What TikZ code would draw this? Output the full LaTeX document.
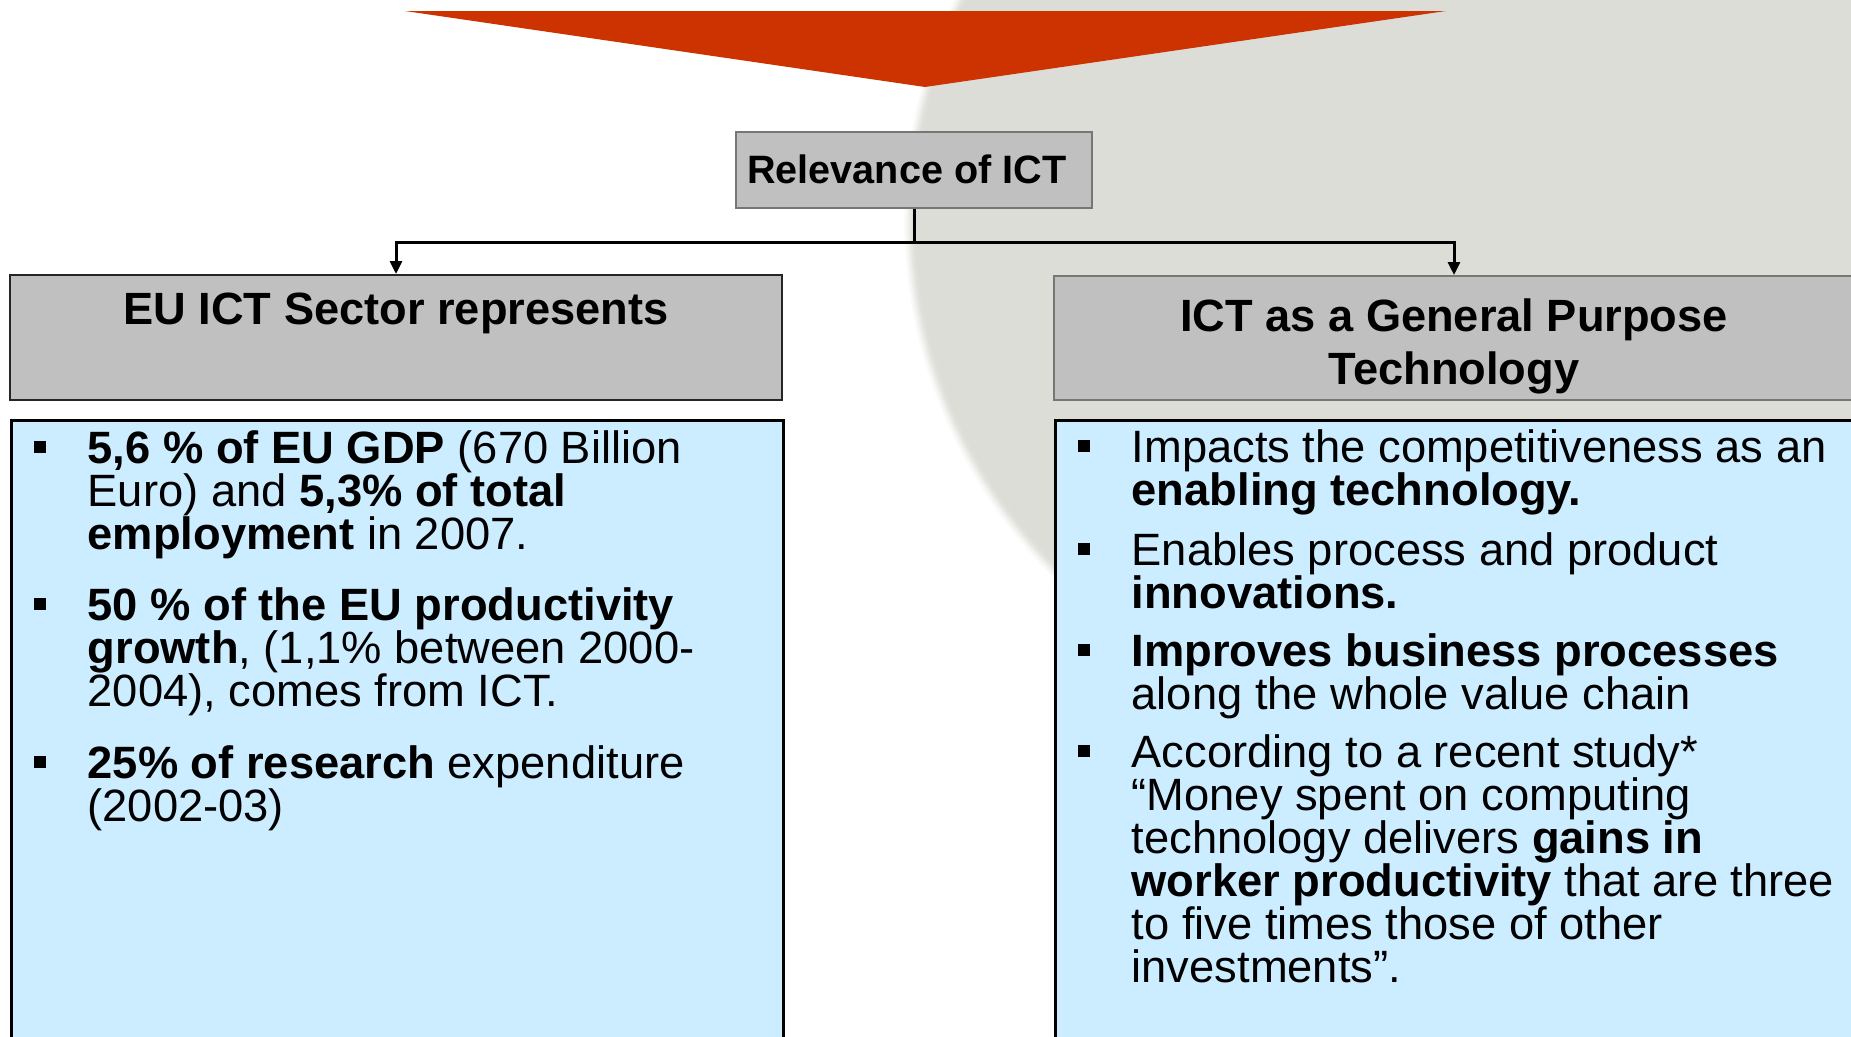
\documentclass[tikz,border=0pt]{standalone}
\usepackage{fontspec}
\setmainfont{Liberation Sans}
\usetikzlibrary{arrows.meta,calc}
\definecolor{bgcircle}{RGB}{221,221,216}
\definecolor{redtri}{RGB}{204,51,0}
\definecolor{boxgray}{RGB}{192,192,192}
\definecolor{boxblue}{RGB}{204,236,255}
\definecolor{bordergray}{RGB}{118,118,118}
\begin{document}
\begin{tikzpicture}[x=1pt,y=-1pt,
  titlebox/.style={rectangle, draw, line width=2pt, fill=boxgray, inner sep=0pt},
  bodybox/.style={rectangle, draw=black, line width=2.5pt, fill=boxblue, inner sep=0pt, anchor=north west},
  conn/.style={line width=3pt, -{Triangle[width=12pt,length=13pt]}},
  bodytext/.style={anchor=base west, inner sep=0pt, font=\fontsize{45.3}{43}\selectfont},
  titletext/.style={anchor=base, inner sep=0pt, font=\fontsize{45.2}{53}\selectfont\bfseries},
]
\useasboundingbox (0,0) rectangle (1851,1036);
\clip (0,0) rectangle (1851,1036);

% background circle with soft edge
\foreach \r/\o in {506/0.12,504/0.2,502/0.3,500/0.45,498/0.6,496/0.8}
  \fill[bgcircle, opacity=\o] (1410,219) circle [radius=\r];
\fill[bgcircle] (1410,219) circle [radius=494];

% red triangle
\fill[redtri] (405,11) -- (1446,11) -- (925,87) -- cycle;

% boxes
\node[titlebox, draw=bordergray, minimum width=356pt, minimum height=76pt] (rel) at (914,169.5) {};
\node[titlebox, draw=black!85, minimum width=772pt, minimum height=125pt] (lt) at (396,337.5) {};
\node[titlebox, draw=bordergray, minimum width=800pt, minimum height=124pt] (rt) at (1454,338) {};
\node[bodybox, minimum width=772pt, minimum height=640pt] (lb) at (10,419) {};
\node[bodybox, minimum width=800pt, minimum height=640pt] (rb) at (1054,419) {};

% connectors
\draw[line width=3pt] (rel.south) -- ++(0,34) coordinate (j);
\draw[conn] (j) -| (lt.north);
\draw[conn] (j) -| (rt.north);

% titles
\node[anchor=base west, inner sep=0pt, font=\fontsize{39.6}{40}\selectfont\bfseries] (reltext) at (747,183) {Relevance of ICT};
\node[titletext] (lttext) at (396,324) {EU ICT Sector represents};
\node[titletext] (rttext1) at (1454,331) {ICT as a General Purpose};
\node[titletext] (rttext2) at (1454,384) {Technology};

% left bullets
\node[bodytext] (l1) at (87.5,463) {\parbox[t]{720pt}{\raggedright\lineskiplimit=-1000pt
  \textbf{5,6 \% of EU GDP} (670 Billion\\Euro) and \textbf{5,3\% of total}\\\textbf{employment} in 2007.}};
\node[bodytext] (l2) at (87.5,620) {\parbox[t]{720pt}{\raggedright\lineskiplimit=-1000pt
  \textbf{50 \% of the EU productivity}\\\textbf{growth}, (1,1\% between 2000-\\2004), comes from ICT.}};
\node[bodytext] (l3) at (87.5,778) {\parbox[t]{720pt}{\raggedright\lineskiplimit=-1000pt
  \textbf{25\% of research} expenditure\\(2002-03)}};

% right bullets
\node[bodytext] (r1) at (1131.5,462) {\parbox[t]{740pt}{\raggedright\lineskiplimit=-1000pt
  Impacts the competitiveness as an\\\textbf{enabling technology.}}};
\node[bodytext] (r2) at (1131.5,565) {\parbox[t]{740pt}{\raggedright\lineskiplimit=-1000pt
  Enables process and product\\\textbf{innovations.}}};
\node[bodytext] (r3) at (1131.5,666) {\parbox[t]{740pt}{\raggedright\lineskiplimit=-1000pt
  \textbf{Improves business processes}\\along the whole value chain}};
\node[bodytext] (r4) at (1131.5,767) {\parbox[t]{740pt}{\raggedright\lineskiplimit=-1000pt
  According to a recent study*\\“Money spent on computing\\technology delivers \textbf{gains in}\\\textbf{worker productivity} that are three\\to five times those of other\\investments”.}};

% square bullets
\foreach \n in {l1,l2,l3,r1,r2,r3,r4}
  \fill ($(\n.base west)+(-53.75,-9.75)$) rectangle ++(12.5,-12.5);
\end{tikzpicture}
\end{document}
